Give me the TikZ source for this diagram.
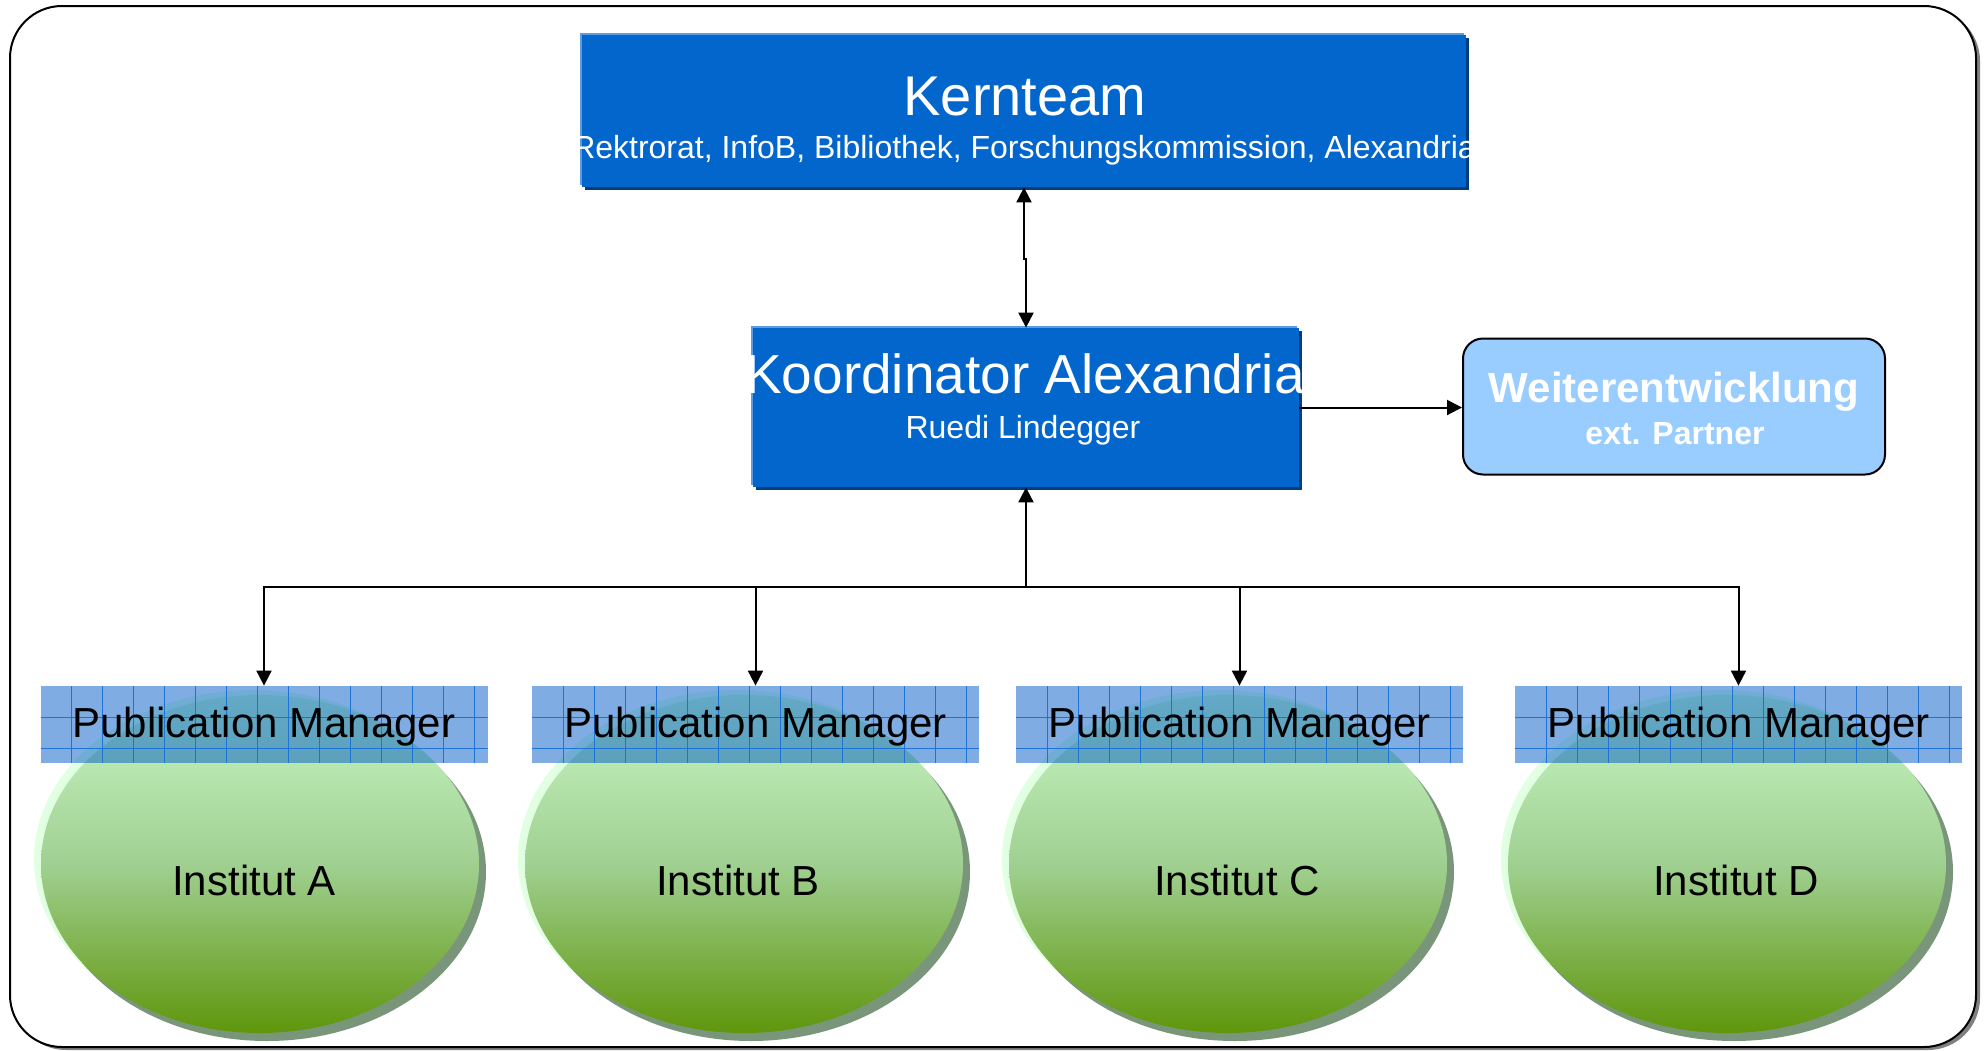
\documentclass[tikz,border=0pt]{standalone}
\usepackage{fontspec}
\setmainfont{Liberation Sans}
\usetikzlibrary{shapes.geometric,shadows,arrows.meta}

\definecolor{kernblue}{RGB}{3,102,204}
\definecolor{kernlight}{RGB}{95,155,225}
\definecolor{kerndark}{RGB}{0,62,128}
\definecolor{partnerblue}{RGB}{153,204,255}
\definecolor{pmblue}{RGB}{0,92,200}
\definecolor{gridblue}{RGB}{30,115,215}
\definecolor{instlight}{RGB}{200,247,197}
\definecolor{instmid}{RGB}{160,208,145}
\definecolor{instdark}{RGB}{95,150,12}
\definecolor{instshadow}{RGB}{122,150,122}
\definecolor{insthigh}{RGB}{225,255,225}

\newcommand{\fsz}[1]{\fontsize{#1}{#1}\selectfont}

\tikzset{
  >={Triangle[length=7.5pt,width=7.5pt]},
  conn/.style={line width=1pt,->},
  bluebox/.style={fill=kernblue,inner sep=0pt,
    general shadow={shadow xshift=-1pt,shadow yshift=1pt,fill=kernlight},
    drop shadow={shadow xshift=1.5pt,shadow yshift=-1.5pt,fill=kerndark,opacity=1}},
  partnerbox/.style={fill=partnerblue,draw=black,line width=1pt,rounded corners=10pt,
    minimum width=211pt,minimum height=68pt,inner sep=0pt},
  pmbox/.style={fill=pmblue,fill opacity=0.5,minimum width=223.5pt,minimum height=38.5pt,inner sep=0pt,
    path picture={
      \foreach \gx in {1,...,14}
        \draw[gridblue,line width=0.5pt] ([xshift=\gx*15.5pt]path picture bounding box.north west)
          -- ([xshift=\gx*15.5pt]path picture bounding box.south west);
      \foreach \gy in {1,2}
        \draw[gridblue,line width=0.5pt] ([yshift=-\gy*15.5pt]path picture bounding box.north west)
          -- ([yshift=-\gy*15.5pt]path picture bounding box.north east);
    }},
  inst/.style={ellipse,minimum width=219pt,minimum height=169pt,inner sep=0pt,
    general shadow={shadow xshift=-3.5pt,shadow yshift=2.5pt,fill=insthigh},
    drop shadow={shadow xshift=3.5pt,shadow yshift=-4pt,fill=instshadow,opacity=1},
    top color=instlight,bottom color=instdark,middle color=instmid},
  title/.style={text=white,anchor=base,inner sep=0pt,font=\fsz{28pt}},
  subtitle/.style={text=white,anchor=base,inner sep=0pt,font=\fsz{16pt}},
  partnertitle/.style={text=white,anchor=base,inner sep=0pt,font=\fsz{21pt}\bfseries},
  partnersub/.style={text=white,anchor=base,inner sep=0pt,font=\fsz{16pt}\bfseries},
  plaintext/.style={anchor=base,inner sep=0pt,font=\fsz{21pt}}
}

\begin{document}
\begin{tikzpicture}[x=0.5pt,y=-0.5pt]
  \useasboundingbox (0,0) rectangle (1987,1050);
  % frame
  \draw[line width=1pt,rounded corners=26pt,fill=white,
    drop shadow={shadow xshift=2pt,shadow yshift=-1.5pt,fill=gray,opacity=1}]
    (10,6) rectangle (1976,1047);

  % top
  \node[bluebox,minimum width=442pt,minimum height=76pt] (kern) at (1024,111) {};
  \node[title] (kernT) at (1025,115) {Kernteam};
  \node[subtitle] (kernS) at (1024,158) {Rektrorat, InfoB, Bibliothek, Forschungskommission, Alexandria};

  \node[bluebox,minimum width=273pt,minimum height=79.5pt] (koord) at (1026,407.5) {};
  \node[title,font=\fsz{27.5pt}] (koordT) at (1025,393) {Koordinator Alexandria};
  \node[subtitle] (koordS) at (1023,438) {Ruedi Lindegger};

  \node[partnerbox] (weiter) at (1674,406.5) {};
  \node[partnertitle] (weiterT) at (1674,402) {Weiterentwicklung};
  \node[partnersub] (weiterS) at (1675,444) {ext. Partner};

  % institutes
  \foreach \n/\x/\tx in {A/260/254,B/744/738,C/1228/1237,D/1727/1736}{
    \node[inst] (inst\n) at (\x,864) {};
    \node[plaintext] (inst\n T) at (\tx,895) {Institut \n};
  }
  \foreach \n/\x in {A/264,B/755.5,C/1239.5,D/1738.5}{
    \node[pmbox] (pm\n) at (\x,724.5) {};
    \node[plaintext] (pm\n T) at (\x,737) {Publication Manager};
  }

  % connectors
  \coordinate (bus) at (1026,587);
  \draw[conn] (bus) -- (koord.south);
  \foreach \n in {A,B,C,D}
    \draw[conn] (bus) -| (pm\n.north);
  \draw[line width=1pt,<->] (kern.south) |- (1026,259) -- (koord.north);
  \draw[conn] (koord.east) -- (koord.east -| weiter.west);
\end{tikzpicture}
\end{document}
